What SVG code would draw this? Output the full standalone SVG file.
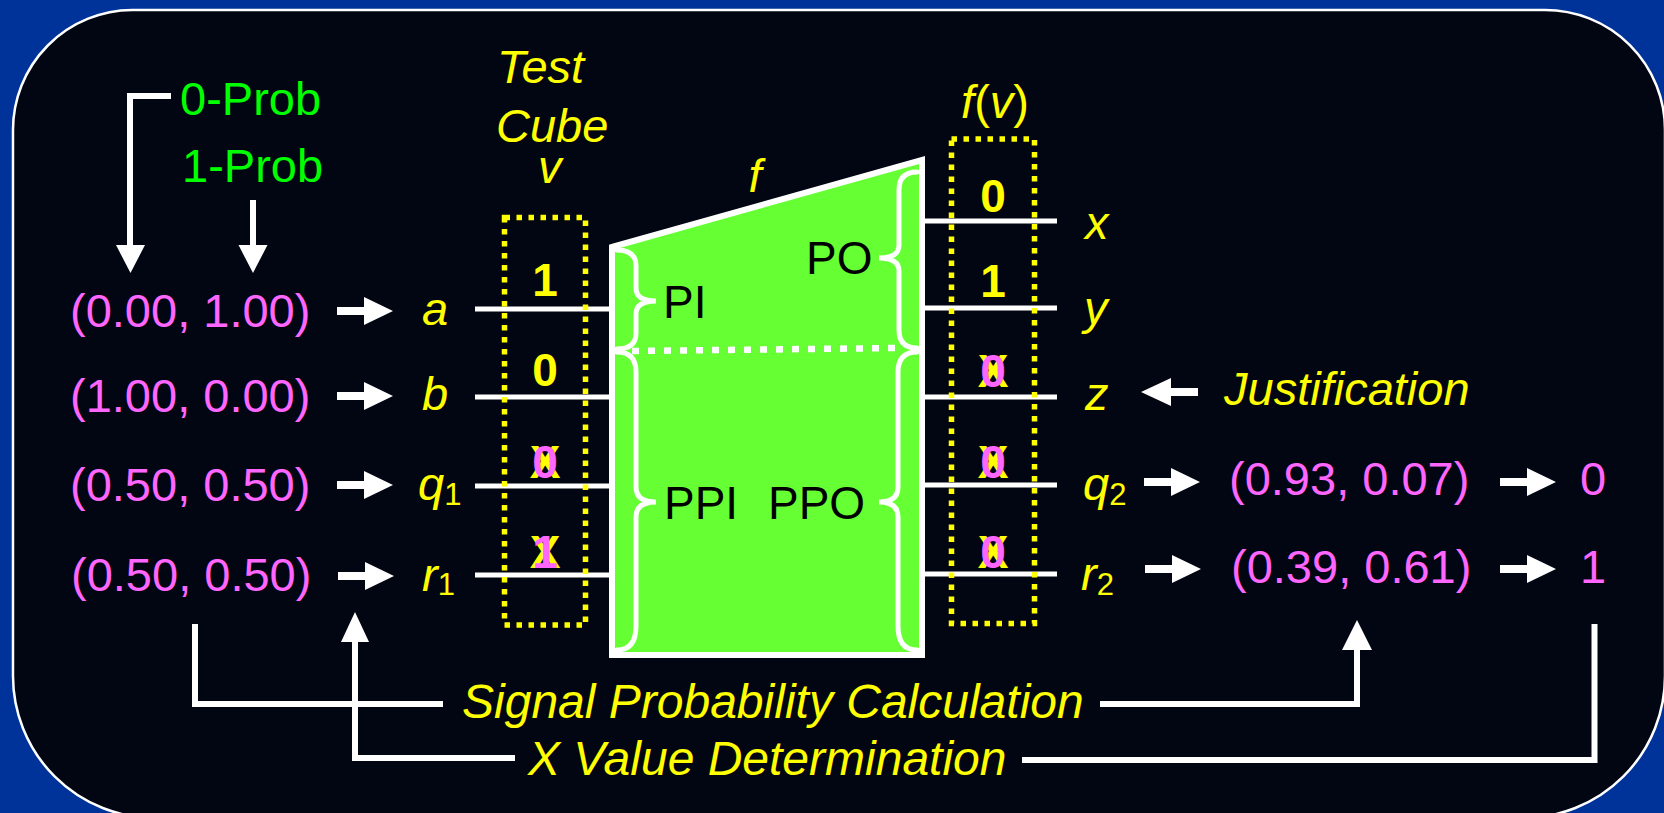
<svg xmlns="http://www.w3.org/2000/svg" width="1664" height="813" viewBox="0 0 1664 813">
<defs>
<style>
.t{font-family:"Liberation Sans",Arial,sans-serif;font-size:47px}
.i{font-style:italic}
.y{fill:#ffff00}
.m{fill:#ff66ff}
.g{fill:#00ff00}
.k{fill:#000000;font-size:46px}
.b{font-weight:bold;font-size:46px}
.w{stroke:#ffffff;fill:none}
.wf{fill:#ffffff}
.dot{fill:none;stroke:#ffff00;stroke-width:5.5;stroke-dasharray:5.5 6.5}
.sub{font-style:normal;font-size:31px}
</style>
</defs>
<rect x="0" y="0" width="1664" height="813" fill="#003399"/>
<path d="M132,10 H1545 A120,120 0 0 1 1665,130 V676 A142,142 0 0 1 1523,818 H155 A142,142 0 0 1 13,676 V130 A120,120 0 0 1 132,10 Z" fill="#020613" stroke="#ffffff" stroke-width="2.5"/>

<g id="circuit">
<polygon points="612,247 922,160 922,655 612,655" fill="#66ff33" stroke="#ffffff" stroke-width="6" stroke-linejoin="miter"/>
<line x1="632" y1="351" x2="898" y2="348" stroke="#ffffff" stroke-width="6.5" stroke-dasharray="7 9"/>
<g class="w" stroke-width="5" stroke-linecap="round">
<path d="M617,250 Q636,250 636,266 L636,288 Q636,301 656,301 Q636,301 636,314 L636,333 Q636,349 617,349"/>
<path d="M617,352 Q636,352 636,372 L636,487 Q636,502 656,502 Q636,502 636,517 L636,626 Q636,650 617,650"/>
<path d="M917,172 Q899,172 899,190 L899,245 Q899,258 879,258 Q899,258 899,271 L899,330 Q899,348 917,348"/>
<path d="M917,352 Q898,352 898,372 L898,487 Q898,502 879,502 Q898,502 898,517 L898,626 Q898,650 917,650"/>
</g>
<text class="t k" x="663" y="318">PI</text>
<text class="t k" x="806" y="274">PO</text>
<text class="t k" x="664" y="519">PPI</text>
<text class="t k" x="768" y="519">PPO</text>
<text class="t i y" x="755" y="192" text-anchor="middle">f</text>
</g>

<g id="signal-lines">
<g stroke="#ffffff" stroke-width="5">
<line x1="475" y1="309" x2="612" y2="309"/>
<line x1="475" y1="397" x2="612" y2="397"/>
<line x1="475" y1="486" x2="612" y2="486"/>
<line x1="475" y1="575" x2="612" y2="575"/>
<line x1="922" y1="221" x2="1057" y2="221"/>
<line x1="922" y1="308" x2="1057" y2="308"/>
<line x1="922" y1="397" x2="1057" y2="397"/>
<line x1="922" y1="485" x2="1057" y2="485"/>
<line x1="922" y1="574" x2="1057" y2="574"/>
</g>
</g>

<g id="test-cube">
<text class="t i y" x="497" y="83">Test</text>
<text class="t i y" x="496" y="142">Cube</text>
<text class="t i y" x="538" y="183">v</text>
<rect class="dot" x="504.5" y="217.5" width="81" height="407.5"/>
<text class="t b y" x="545" y="296" text-anchor="middle">1</text>
<text class="t b y" x="545" y="386" text-anchor="middle">0</text>
<text class="t b y" x="545" y="478" text-anchor="middle">X</text>
<text class="t b m" x="545" y="478" text-anchor="middle">0</text>
<text class="t b y" x="545" y="568" text-anchor="middle">X</text>
<text class="t b m" x="545" y="568" text-anchor="middle">1</text>
</g>

<g id="response">
<text class="t y" x="995" y="118" text-anchor="middle"><tspan class="i">f</tspan>(<tspan class="i">v</tspan>)</text>
<rect class="dot" x="951.5" y="139" width="83" height="484.5"/>
<text class="t b y" x="993" y="212" text-anchor="middle">0</text>
<text class="t b y" x="993" y="297" text-anchor="middle">1</text>
<text class="t b y" x="993" y="387" text-anchor="middle">X</text>
<text class="t b m" x="993" y="387" text-anchor="middle">0</text>
<text class="t b y" x="993" y="478" text-anchor="middle">X</text>
<text class="t b m" x="993" y="478" text-anchor="middle">0</text>
<text class="t b y" x="993" y="568" text-anchor="middle">X</text>
<text class="t b m" x="993" y="568" text-anchor="middle">0</text>
</g>

<g id="inputs">
<text class="t g" x="180" y="115">0-Prob</text>
<text class="t g" x="182" y="182">1-Prob</text>
<text class="t m" x="70" y="327">(0.00, 1.00)</text>
<text class="t m" x="70" y="412">(1.00, 0.00)</text>
<text class="t m" x="70" y="501">(0.50, 0.50)</text>
<text class="t m" x="71" y="591">(0.50, 0.50)</text>
<text class="t i y" x="422" y="325">a</text>
<text class="t i y" x="422" y="410">b</text>
<text class="t i y" x="418" y="500">q<tspan class="sub" dy="5">1</tspan></text>
<text class="t i y" x="422" y="591">r<tspan class="sub" dy="4">1</tspan></text>
</g>

<g id="outputs">
<text class="t i y" x="1085" y="239">x</text>
<text class="t i y" x="1084" y="324">y</text>
<text class="t i y" x="1085" y="410">z</text>
<text class="t i y" x="1083" y="500">q<tspan class="sub" dy="5">2</tspan></text>
<text class="t i y" x="1081" y="590">r<tspan class="sub" dy="5">2</tspan></text>
<text class="t i y" x="1224" y="405">Justification</text>
<text class="t m" x="1229" y="495">(0.93, 0.07)</text>
<text class="t m" x="1231" y="583">(0.39, 0.61)</text>
<text class="t m" x="1580" y="495">0</text>
<text class="t m" x="1580" y="583">1</text>
</g>

<g id="labels">
<text class="t i y" x="462" y="718" style="font-size:48px">Signal Probability Calculation</text>
<text class="t i y" x="528" y="775" style="font-size:48px">X Value Determination</text>
</g>

<g id="connectors">
<g stroke="#ffffff" stroke-width="6" fill="none" stroke-linejoin="miter">
<polyline points="171,96 130,96 130,247"/>
<line x1="253" y1="200" x2="253" y2="247"/>
<polyline points="195,624 195,704 443,704"/>
<polyline points="1100,704 1357,704 1357,648"/>
<polyline points="355,640 355,758 515,758"/>
<polyline points="1022,760 1594.5,760 1594.5,624"/>
</g>
<g class="wf">
<polygon points="116,245 145,245 130.5,273"/>
<polygon points="238.5,245 267.5,245 253,273"/>
<polygon points="341,642 369,642 355,612"/>
<polygon points="1342,650 1372,650 1357,620"/>
</g>
<g class="wf">
<path d="M337,307 H364 V297 L393,311 L364,325 V315 H337 Z"/>
<path d="M337,392 H364 V382 L393,396 L364,410 V400 H337 Z"/>
<path d="M337,481 H364 V471 L393,485 L364,499 V489 H337 Z"/>
<path d="M338,572 H365 V562 L394,576 L365,590 V580 H338 Z"/>
<path d="M1144,478 H1171 V468 L1200,482 L1171,496 V486 H1144 Z"/>
<path d="M1145,565 H1172 V555 L1201,569 L1172,583 V573 H1145 Z"/>
<path d="M1500,478 H1527 V468 L1556,482 L1527,496 V486 H1500 Z"/>
<path d="M1500,565 H1527 V555 L1556,569 L1527,583 V573 H1500 Z"/>
<path d="M1198,388 H1171 V378 L1141,392 L1171,406 V396 H1198 Z"/>
</g>
</g>
</svg>
